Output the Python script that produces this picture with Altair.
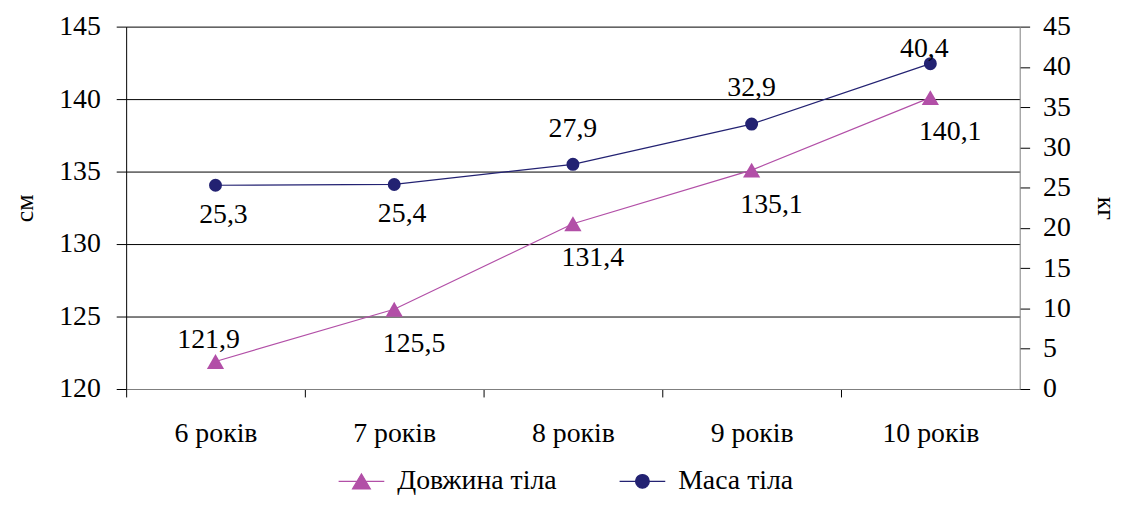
import altair as alt
import pandas as pd

# ---- data ----
ages = ["6 років", "7 років", "8 років", "9 років", "10 років"]
length_cm = [121.9, 125.5, 131.4, 135.1, 140.1]
mass_kg = [25.3, 25.4, 27.9, 32.9, 40.4]
length_label_side = ["above", "below", "below", "below", "below"]
mass_label_side = ["below", "below", "above", "above", "above-left"]
series_names = ["Довжина тіла", "Маса тіла"]
cm_ticks = [120, 125, 130, 135, 140, 145]
kg_ticks = [0, 5, 10, 15, 20, 25, 30, 35, 40, 45]

PINK = "#B24FA7"
NAVY = "#232272"
FONT = "Liberation Serif"
FS = 28
W, H = 900, 365


def fmt(v):
    return f"{v:.1f}".replace(".", ",")


len_df = pd.DataFrame({"age": ages, "value": length_cm,
                       "label": [fmt(v) for v in length_cm], "side": length_label_side})
mass_df = pd.DataFrame({"age": ages, "value": mass_kg,
                        "label": [fmt(v) for v in mass_kg], "side": mass_label_side})
legend_df = pd.DataFrame({"series": series_names})

step = W / len(ages)
x_enc = alt.X(
    "age:N", sort=ages,
    scale=alt.Scale(type="point", padding=0.5),
    axis=alt.Axis(title=None, tickOffset=-step / 2, labelOffset=step / 2,
                  tickSize=8, labelPadding=23, domainColor="#808080",
                  labelAngle=0, grid=False),
)

y_len = alt.Y(
    "value:Q",
    scale=alt.Scale(domain=[120, 145], nice=False, zero=False),
    axis=alt.Axis(values=cm_ticks, title="см", orient="left", grid=True,
                  gridColor="#000000", gridWidth=1, tickSize=10, labelPadding=16,
                  domainColor="#000000", titleAngle=-90, titleX=-102, titleY=H / 2,
                  titleAlign="center", titleBaseline="middle", titleFontSize=26),
)
y_mass = alt.Y(
    "value:Q",
    scale=alt.Scale(domain=[0, 45], nice=False, zero=True),
    axis=alt.Axis(values=kg_ticks, title="кг", orient="right", grid=False,
                  tickSize=10, labelPadding=13, domainColor="#808080",
                  titleAngle=90, titleX=86, titleY=H / 2,
                  titleAlign="center", titleBaseline="middle", titleFontSize=26),
)

text_style = dict(font=FONT, fontSize=FS, color="black", baseline="middle", align="center")

base_len = alt.Chart(len_df).encode(x=x_enc, y=y_len)
line_len = base_len.mark_line(color=PINK, strokeWidth=1.2)
pts_len = base_len.mark_point(shape="triangle-up", filled=True, size=300, color=PINK, opacity=1)
txt_len_above = base_len.transform_filter(alt.datum.side == "above").mark_text(
    dx=-7, dy=-22, **text_style).encode(text="label:N")
txt_len_below = base_len.transform_filter(alt.datum.side == "below").mark_text(
    dx=20, dy=35, **text_style).encode(text="label:N")

base_mass = alt.Chart(mass_df).encode(x=x_enc, y=y_mass)
line_mass = base_mass.mark_line(color=NAVY, strokeWidth=1.2)
pts_mass = base_mass.mark_point(shape="circle", filled=True, size=170, color=NAVY, opacity=1)
txt_mass_above = base_mass.transform_filter(alt.datum.side == "above").mark_text(
    dx=0, dy=-36, **text_style).encode(text="label:N")
txt_mass_above_left = base_mass.transform_filter(alt.datum.side == "above-left").mark_text(
    dx=-6, dy=-15, **text_style).encode(text="label:N")
txt_mass_below = base_mass.transform_filter(alt.datum.side == "below").mark_text(
    dx=8, dy=30, **text_style).encode(text="label:N")

legend_paths = [
    "M-1,0H1M-0.39,0.33L0,-0.33L0.39,0.33Z",
    "M-1,0H1M-0.3,0A0.3,0.3,0,1,0,0.3,0A0.3,0.3,0,1,0,-0.3,0Z",
]
leg_def = alt.Legend(
    title=None, orient="none", legendX=213, legendY=434, direction="horizontal",
    labelFont=FONT, labelFontSize=FS, labelColor="black", labelLimit=500,
    symbolSize=2116, symbolStrokeWidth=1.2, labelOffset=12, columnPadding=60,
    padding=0,
)
legend_layer = alt.Chart(legend_df).mark_point(
    filled=True, clip=True, size=2116, strokeWidth=1.2, opacity=1
).encode(
    x=alt.value(-500), y=alt.value(-500),
    fill=alt.Fill("series:N", scale=alt.Scale(domain=series_names, range=[PINK, NAVY]), legend=leg_def),
    stroke=alt.Stroke("series:N", scale=alt.Scale(domain=series_names, range=[PINK, NAVY]), legend=leg_def),
    shape=alt.Shape("series:N", scale=alt.Scale(domain=series_names, range=legend_paths), legend=leg_def),
)

length_layer = alt.layer(line_len, pts_len, txt_len_above, txt_len_below)
mass_layer = alt.layer(line_mass, pts_mass, txt_mass_above, txt_mass_above_left,
                       txt_mass_below, legend_layer)

chart = (
    alt.layer(length_layer, mass_layer)
    .resolve_scale(y="independent")
    .properties(
        width=W, height=H,
        padding={"left": 119, "top": 17, "right": 98, "bottom": 106},
        autosize=alt.AutoSizeParams(type="none"),
    )
    .configure_view(strokeWidth=0)
    .configure_axis(labelFont=FONT, titleFont=FONT, labelFontSize=FS, titleFontSize=FS,
                    labelColor="black", titleColor="black", titleFontWeight="normal",
                    tickColor="black")
)

chart.save("out.html", embed_options={"renderer": "svg", "actions": False})
